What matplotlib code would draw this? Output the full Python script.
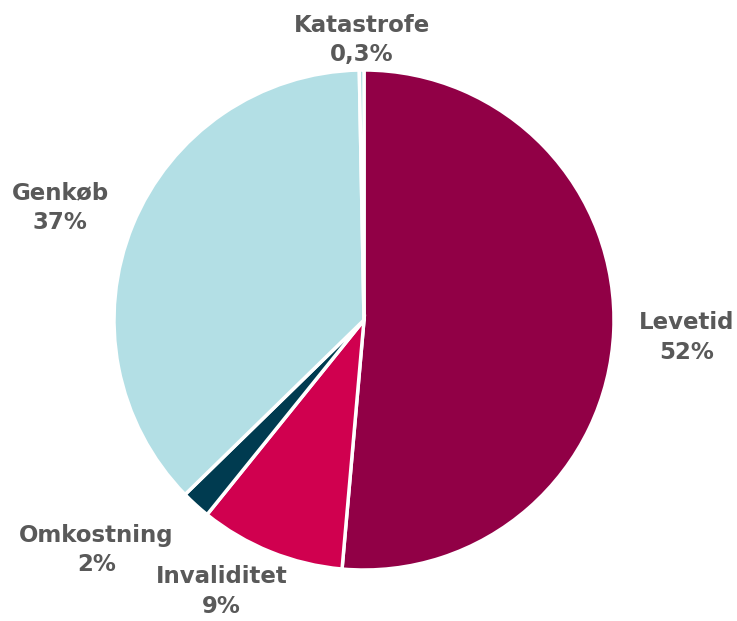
import matplotlib
matplotlib.use("Agg")
import matplotlib.pyplot as plt

categories = ["Levetid", "Invaliditet", "Omkostning", "Genkøb", "Katastrofe"]
values = [51.4, 9.4, 1.9, 37.0, 0.3]
value_labels = ["52%", "9%", "2%", "37%", "0,3%"]
colors = ["#910046", "#D0004F", "#003B50", "#B3DFE5", "#A8D8DE"]
# label positions (data units, pie radius = 1)
label_pos = [(1.29, -0.07), (-0.57, -1.085), (-1.07, -0.92), (-1.215, 0.45), (-0.01, 1.12)]

W, H = 737, 621
fig = plt.figure(figsize=(W / 100, H / 100), dpi=100)
cx, cy, r = 364, 320, 250
ax = fig.add_axes([(cx - r) / W, (H - cy - r) / H, 2 * r / W, 2 * r / H])

wedges, texts = ax.pie(values, colors=colors, startangle=90, counterclock=False,
                       radius=1, labels=[f"{c}\n{v}" for c, v in zip(categories, value_labels)],
                       wedgeprops=dict(edgecolor="white", linewidth=2.5),
                       textprops=dict(fontsize=16.5, fontweight="bold", color="#595959",
                                      ha="center", va="center", linespacing=1.38))
for t, p in zip(texts, label_pos):
    t.set_position(p)
    t.set_ha("center")
    t.set_va("center")

ax.set_xlim(-1, 1)
ax.set_ylim(-1, 1)
ax.set_aspect("equal")
ax.axis("off")
fig.savefig("out.png", dpi=100)
